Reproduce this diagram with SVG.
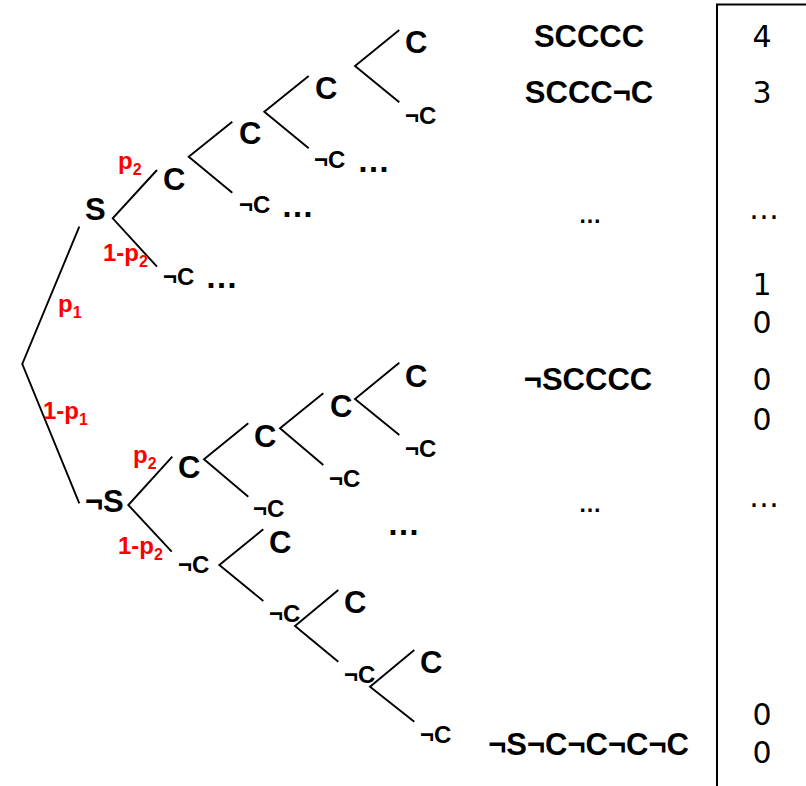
<svg xmlns="http://www.w3.org/2000/svg" width="806" height="786" viewBox="0 0 806 786">
  <style>
    .edge { stroke: #000; stroke-width: 1.9; fill: none; stroke-linecap: butt; }
    .frame { stroke: #000; stroke-width: 2; fill: none; }
    .big { font-family: "Liberation Sans", Arial, sans-serif; font-weight: bold; font-size: 31px; fill: #000; }
    .neg { font-family: "Liberation Sans", Arial, sans-serif; font-weight: bold; font-size: 24px; fill: #000; }
    .dots { font-family: "Liberation Sans", Arial, sans-serif; font-weight: bold; font-size: 33px; fill: #000; }
    .sdots { font-family: "Liberation Sans", Arial, sans-serif; font-weight: bold; font-size: 23px; fill: #000; text-anchor: middle; }
    .prob { font-family: "Liberation Sans", Arial, sans-serif; font-weight: bold; font-size: 24px; fill: #ff0000; }
    .sub { font-size: 16px; }
    .seq { font-family: "Liberation Sans", Arial, sans-serif; font-weight: bold; font-size: 31px; fill: #000; text-anchor: middle; }
    .num { font-family: "DejaVu Sans", Verdana, sans-serif; font-size: 30px; fill: #000; text-anchor: middle; }
  </style>

  <!-- branches of the probability tree -->
  <g id="connectors">
    <!-- root split -->
    <polyline class="edge" points="79.3,226.7 22.3,364 79.3,503.3"/>
    <!-- S branch -->
    <polyline class="edge" points="157,170 112.7,218.3 157,266.7"/>
    <polyline class="edge" points="232.3,121.7 188.7,156.7 232.3,192.7"/>
    <polyline class="edge" points="308.7,76 264.3,111.7 308.7,148.3"/>
    <polyline class="edge" points="399.3,30 355,66 399.3,102.3"/>
    <!-- not-S branch, upper chain -->
    <polyline class="edge" points="172.3,456.7 128.3,505 171.7,551.7"/>
    <polyline class="edge" points="248.3,423.3 204,459.3 248.3,496.7"/>
    <polyline class="edge" points="323.3,393.3 280,428.3 323.3,465"/>
    <polyline class="edge" points="399.3,362.7 355,399 399.3,435"/>
    <!-- not-S branch, lower chain -->
    <polyline class="edge" points="263.3,529.3 219.3,565 263.3,601"/>
    <polyline class="edge" points="338.3,590 295,626 338.3,661.7"/>
    <polyline class="edge" points="414.3,650 370,686.7 414.3,721.7"/>
  </g>

  <!-- table frame on the right -->
  <g id="table-frame">
    <polyline class="frame" points="717,786 717,4.5 806,4.5"/>
  </g>

  <!-- S subtree -->
  <g id="node-S"><text class="big" x="85" y="220">S</text></g>
  <g id="node-S-C"><text class="big" x="163" y="190">C</text></g>
  <g id="node-S-C-C"><text class="big" x="239" y="144">C</text></g>
  <g id="node-S-C-C-C"><text class="big" x="315" y="99">C</text></g>
  <g id="node-S-C-C-C-C"><text class="big" x="405" y="53">C</text></g>
  <g id="node-S-C-C-C-nC"><text class="neg" x="405" y="124">¬C</text></g>
  <g id="node-S-C-C-nC"><text class="neg" x="314" y="168">¬C</text><text class="dots" x="357" y="172">…</text></g>
  <g id="node-S-C-nC"><text class="neg" x="239" y="213">¬C</text><text class="dots" x="281" y="217">…</text></g>
  <g id="node-S-nC"><text class="neg" x="163" y="285">¬C</text><text class="dots" x="205" y="288">…</text></g>

  <!-- not-S subtree -->
  <g id="node-nS"><text class="big" x="85" y="511.7">¬S</text></g>
  <g id="node-nS-C"><text class="big" x="178" y="477.7">C</text></g>
  <g id="node-nS-C-C"><text class="big" x="254" y="446.7">C</text></g>
  <g id="node-nS-C-C-C"><text class="big" x="330" y="417">C</text></g>
  <g id="node-nS-C-C-C-C"><text class="big" x="405" y="387">C</text></g>
  <g id="node-nS-C-C-C-nC"><text class="neg" x="405" y="457.3">¬C</text></g>
  <g id="node-nS-C-C-nC"><text class="neg" x="329" y="486.7">¬C</text></g>
  <g id="node-nS-C-nC"><text class="neg" x="253" y="516.7">¬C</text></g>
  <g id="more-nS"><text class="dots" x="387" y="535">…</text></g>
  <g id="node-nS-nC"><text class="neg" x="178" y="573.3">¬C</text></g>
  <g id="node-nS-nC-C"><text class="big" x="269" y="552.7">C</text></g>
  <g id="node-nS-nC-nC"><text class="neg" x="269" y="621.7">¬C</text></g>
  <g id="node-nS-nC-nC-C"><text class="big" x="344" y="612.7">C</text></g>
  <g id="node-nS-nC-nC-nC"><text class="neg" x="344" y="683.3">¬C</text></g>
  <g id="node-nS-nC-nC-nC-C"><text class="big" x="420" y="673.3">C</text></g>
  <g id="node-nS-nC-nC-nC-nC"><text class="neg" x="420" y="743.3">¬C</text></g>

  <!-- branch probabilities -->
  <g id="probabilities">
    <text class="prob" x="58" y="311.8">p<tspan class="sub" dy="6">1</tspan></text>
    <text class="prob" x="43" y="418.8">1-p<tspan class="sub" dy="6">1</tspan></text>
    <text class="prob" x="118" y="168.5">p<tspan class="sub" dy="6">2</tspan></text>
    <text class="prob" x="103" y="260.5">1-p<tspan class="sub" dy="6">2</tspan></text>
    <text class="prob" x="133" y="462.5">p<tspan class="sub" dy="6">2</tspan></text>
    <text class="prob" x="118" y="553.8">1-p<tspan class="sub" dy="6">2</tspan></text>
  </g>

  <!-- outcome sequences -->
  <g id="sequences">
    <text class="seq" x="589" y="46.7">SCCCC</text>
    <text class="seq" x="589" y="103.3">SCCC¬C</text>
    <text class="sdots" x="590" y="223">…</text>
    <text class="seq" x="588" y="390">¬SCCCC</text>
    <text class="sdots" x="590" y="511.7">…</text>
    <text class="seq" x="588.5" y="755">¬S¬C¬C¬C¬C</text>
  </g>

  <!-- values column -->
  <g id="values">
    <text class="num" x="762" y="46.7">4</text>
    <text class="num" x="762" y="103.3">3</text>
    <text class="num" x="764" y="219">…</text>
    <text class="num" x="762" y="295">1</text>
    <text class="num" x="762" y="333.3">0</text>
    <text class="num" x="762" y="390">0</text>
    <text class="num" x="762" y="430">0</text>
    <text class="num" x="764" y="507.3">…</text>
    <text class="num" x="762" y="725">0</text>
    <text class="num" x="762" y="763.3">0</text>
  </g>
</svg>
